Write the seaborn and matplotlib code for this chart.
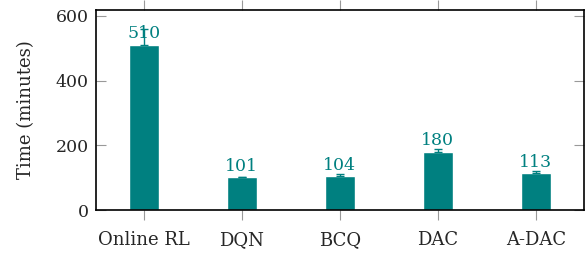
import numpy as np
import pandas as pd
import matplotlib
matplotlib.use('Agg')
import matplotlib.pyplot as plt
import seaborn as sns

# ========== DATA ==========
methods = ['Online RL', 'DQN', 'BCQ', 'DAC', 'A-DAC']
times = [510, 101, 104, 180, 113]        # minutes
errors = [50, 2, 6, 8, 7]                # std

TEAL = '#008080'

sns.set_theme(style='white')
plt.rcParams['font.family'] = ['DejaVu Serif']

df = pd.DataFrame({'method': methods, 'time': times})

fig = plt.figure(figsize=(5.88, 2.54), dpi=100)
ax = fig.add_axes([0.163, 0.173, 0.830, 0.788])

sns.barplot(data=df, x='method', y='time', color=TEAL, saturation=1,
            width=0.3, errorbar=None, ax=ax)

# error bars
xs = np.arange(len(methods))
ax.errorbar(xs, times, yerr=[np.zeros(len(errors)), errors], fmt='none',
            ecolor=TEAL, elinewidth=1, capsize=3, capthick=1)

# value labels above each bar
for x, t in zip(xs, times):
    ax.annotate(str(t), (x, t), xytext=(0, 2), textcoords='offset points',
                ha='center', va='bottom', color=TEAL, fontsize=12.5)

ax.set_xlim(-0.49, 4.49)
ax.set_ylim(0, 618)
ax.set_yticks([0, 200, 400, 600])
ax.set_xlabel('')
ax.set_ylabel('Time (minutes)', fontsize=13, labelpad=15)

for s in ax.spines.values():
    s.set_color('black')
    s.set_linewidth(1.2)

ax.tick_params(axis='x', which='both', direction='out', length=7, width=0.8,
               color='#999999', labelsize=13, top=True, bottom=True, pad=8)
ax.tick_params(axis='y', which='both', direction='in', length=7, width=0.8,
               color='#999999', labelsize=12.5, left=True, right=True, pad=5)

plt.savefig('out.png', dpi=100)
